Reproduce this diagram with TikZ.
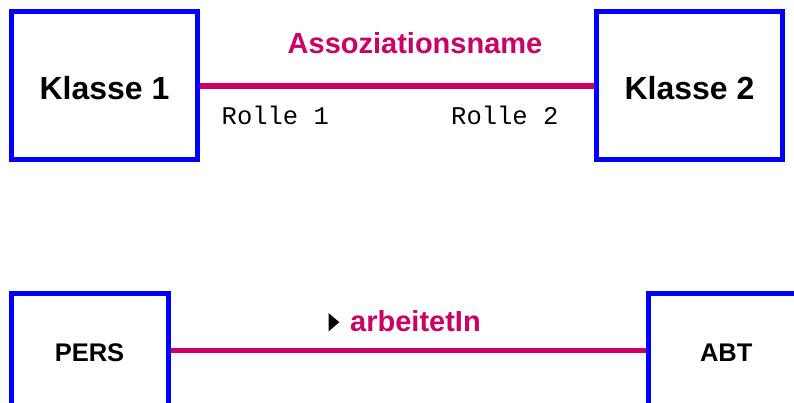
\documentclass[tikz,border=0pt]{standalone}
\usepackage{fontspec}
\setmainfont{Liberation Sans}
\setmonofont{Liberation Mono}
\definecolor{umlblue}{RGB}{0,0,255}
\definecolor{assoc}{RGB}{204,0,102}
\begin{document}
\begin{tikzpicture}[x=1pt,y=-1pt,
  classbox/.style={draw=umlblue,line width=5pt,rectangle,inner sep=0pt,fill=white},
  bigname/.style={font=\fontsize{32pt}{32pt}\selectfont\bfseries},
  smallname/.style={font=\fontsize{25.5pt}{25.5pt}\selectfont\bfseries},
  assocline/.style={draw=assoc,line width=5.5pt},
  assocname/.style={text=assoc,font=\fontsize{29pt}{29pt}\selectfont\bfseries,inner sep=0pt,anchor=base},
  role/.style={font=\fontsize{25.5pt}{25.5pt}\selectfont\ttfamily,inner sep=0pt,anchor=base west}]
\useasboundingbox[fill=white] (0,0) rectangle (794,403);
% top diagram
\node[classbox,minimum width=186pt,minimum height=148pt] (k1) at (104.5,86) {};
\node[bigname,anchor=base] (k1t) at (104.5,99.3) {Klasse 1};
\node[classbox,minimum width=186.5pt,minimum height=148pt] (k2) at (689.25,86) {};
\node[bigname,anchor=base] (k2t) at (689.5,99.3) {Klasse 2};
\draw[assocline] (k1.east) -- (k2.west);
\node[assocname] (an) at (415,53.3) {Assoziationsname};
\node[role] (r1) at (221.5,125) {Rolle 1};
\node[role] (r2) at (451,124.5) {Rolle 2};
% bottom diagram
\node[classbox,minimum width=157pt,minimum height=114pt] (pers) at (90,350.5) {};
\node[smallname,anchor=base] (perst) at (89.5,361.7) {PERS};
\node[classbox,minimum width=186pt,minimum height=114pt] (abt) at (741.7,350.5) {};
\node[smallname,anchor=base] (abtt) at (726.2,361) {ABT};
\draw[assocline] (pers.east) -- (abt.west);
\node[assocname] (arb) at (415.5,331) {arbeitetIn};
\fill[black] (328.5,313) -- (339.3,322.2) -- (328.5,331.5) -- cycle;
\end{tikzpicture}
\end{document}
